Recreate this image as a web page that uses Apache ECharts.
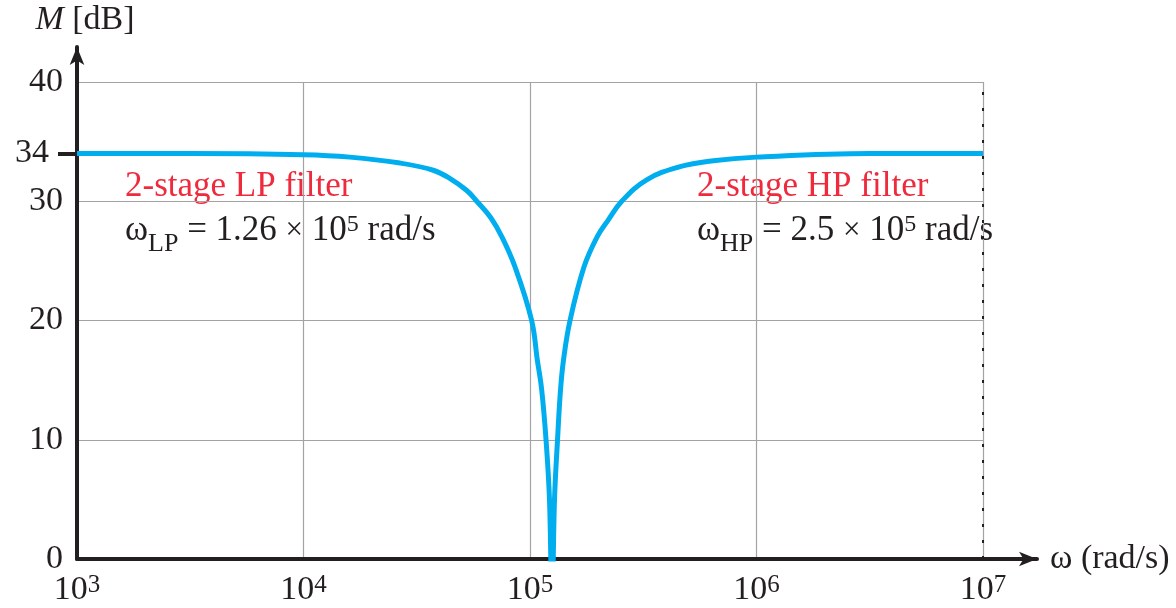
<!DOCTYPE html>
<html>
<head>
<meta charset="utf-8">
<script src="https://cdn.jsdelivr.net/npm/echarts@6/dist/echarts.min.js"></script>
<style>
  html, body { margin: 0; padding: 0; background: #fff; }
  #chart { width: 1176px; height: 608px; }
</style>
</head>
<body>
<div id="chart"></div>
<script>
// frequency (rad/s) and magnitude (dB)
const omega = [
  1000, 3160, 10000, 16000, 26700, 37400, 44400, 52600, 58200, 67250,
  75230, 85860, 101700, 107700, 112600, 117700, 121900, 125100,
  128300, 132300, 136400, 140600, 150200, 173200, 197600, 221000, 254100,
  327500, 459500, 644700, 1000000, 3170000, 10000000
];
const magnitude = [
  34.0, 34.0, 33.9, 33.7, 33.2, 32.6, 31.9, 30.9, 30.0, 28.6,
  27.0, 24.5, 20.0, 16.7, 14.2, 10.0, 5.0, -4.0,
  5.0, 10.0, 14.2, 16.7, 20.0, 24.5, 27.0, 28.4, 30.0,
  31.8, 32.9, 33.4, 33.7, 34.0, 34.0
];
const xTicks = [1e3, 1e4, 1e5, 1e6, 1e7];
const yTicks = [0, 10, 20, 30, 40];
const dcGain = 34;

const serif = 'Liberation Serif';
const ink = '#231f20';
const gridGray = '#a3a3a3';

const chart = echarts.init(document.getElementById('chart'), null, { renderer: 'canvas' });

function noteRich() {
  return {
    w: { fontFamily: serif, fontSize: 35, fill: ink },
    t: { fontFamily: serif, fontSize: 35, fill: ink },
    x: { fontFamily: serif, fontSize: 31, fill: ink },
    sub: { fontFamily: serif, fontSize: 26, fill: ink, verticalAlign: 'bottom', padding: [0, 0, -9, 0] },
    sup: { fontFamily: serif, fontSize: 24, fill: ink, verticalAlign: 'top' }
  };
}

const option = {
  animation: false,
  backgroundColor: '#fff',
  grid: [
    { left: 77, right: 193, top: 82, bottom: 49 },
    { left: 77, right: 139, top: 47, bottom: 49 }
  ],
  xAxis: [
    {
      type: 'log',
      logBase: 10,
      gridIndex: 0,
      min: xTicks[0],
      max: xTicks[xTicks.length - 1],
      axisLine: { show: false },
      axisTick: { show: false },
      minorTick: { show: false },
      splitLine: { show: true, lineStyle: { color: gridGray, width: 1.2 } },
      axisLabel: {
        margin: 14,
        formatter: function (v) {
          const e = Math.round(Math.log10(v));
          return '{b|10}{s|' + e + '}';
        },
        rich: {
          b: { fontFamily: serif, fontSize: 34, color: ink, lineHeight: 34 },
          s: { fontFamily: serif, fontSize: 25, color: ink, verticalAlign: 'top', lineHeight: 22 }
        }
      }
    },
    {
      type: 'value',
      gridIndex: 1,
      min: 0,
      max: 1,
      axisLine: {
        show: true,
        symbol: ['none', 'arrow'],
        symbolSize: [11, 18],
        lineStyle: { color: ink, width: 4 }
      },
      axisTick: { show: false },
      axisLabel: { show: false },
      splitLine: { show: false },
      name: 'ω (rad/s)',
      nameLocation: 'end',
      nameGap: 13,
      nameTextStyle: { fontFamily: serif, fontSize: 34, color: ink, verticalAlign: 'middle' }
    }
  ],
  yAxis: [
    {
      type: 'value',
      gridIndex: 0,
      min: yTicks[0],
      max: yTicks[yTicks.length - 1],
      interval: 10,
      axisLine: { show: false },
      axisTick: { show: false },
      splitLine: { show: true, lineStyle: { color: gridGray, width: 1.2 } },
      axisLabel: { margin: 14, fontFamily: serif, fontSize: 34, color: ink }
    },
    {
      type: 'value',
      gridIndex: 0,
      position: 'left',
      min: yTicks[0],
      max: yTicks[yTicks.length - 1],
      axisLine: { show: false },
      splitLine: { show: false },
      axisTick: {
        show: true,
        customValues: [dcGain],
        length: 19,
        lineStyle: { color: ink, width: 4 }
      },
      axisLabel: {
        customValues: [dcGain],
        margin: 28,
        fontFamily: serif,
        fontSize: 34,
        color: ink
      }
    },
    {
      type: 'value',
      gridIndex: 1,
      min: 0,
      max: 1,
      axisLine: {
        show: true,
        symbol: ['none', 'arrow'],
        symbolSize: [11, 18],
        lineStyle: { color: ink, width: 4 }
      },
      axisTick: { show: false },
      axisLabel: { show: false },
      splitLine: { show: false },
      name: '{m|M}{t| [dB]}',
      nameLocation: 'end',
      nameGap: 10,
      nameTextStyle: {
        padding: [0, 0, 0, 16],
        rich: {
          m: { fontFamily: serif, fontSize: 34, fontStyle: 'italic', color: ink },
          t: { fontFamily: serif, fontSize: 34, color: ink }
        }
      }
    }
  ],
  series: [
    {
      type: 'line',
      xAxisIndex: 0,
      yAxisIndex: 0,
      data: omega.map((w, i) => [w, magnitude[i]]),
      showSymbol: false,
      smooth: 0.4,
      clip: true,
      lineStyle: { color: '#00aeef', width: 5 },
      z: 5,
      markLine: {
        silent: true,
        symbol: 'none',
        label: { show: false },
        lineStyle: { color: ink, type: [3, 13], width: 2 },
        data: [{ xAxis: xTicks[xTicks.length - 1] }]
      }
    }
  ],
  graphic: [
    {
      type: 'text',
      left: 125,
      top: 169,
      style: { text: '2-stage LP filter', fontFamily: serif, fontSize: 35, fill: '#ee2a3c' }
    },
    {
      type: 'text',
      left: 125,
      top: 213,
      style: {
        text: '{w|ω}{sub|LP}{t| = 1.26 }{x|×}{t| 10}{sup|5}{t| rad/s}',
        rich: noteRich()
      }
    },
    {
      type: 'text',
      left: 697,
      top: 169,
      style: { text: '2-stage HP filter', fontFamily: serif, fontSize: 35, fill: '#ee2a3c' }
    },
    {
      type: 'text',
      left: 697,
      top: 213,
      style: {
        text: '{w|ω}{sub|HP}{t| = 2.5 }{x|×}{t| 10}{sup|5}{t| rad/s}',
        rich: noteRich()
      }
    }
  ]
};

chart.setOption(option);
</script>
</body>
</html>
